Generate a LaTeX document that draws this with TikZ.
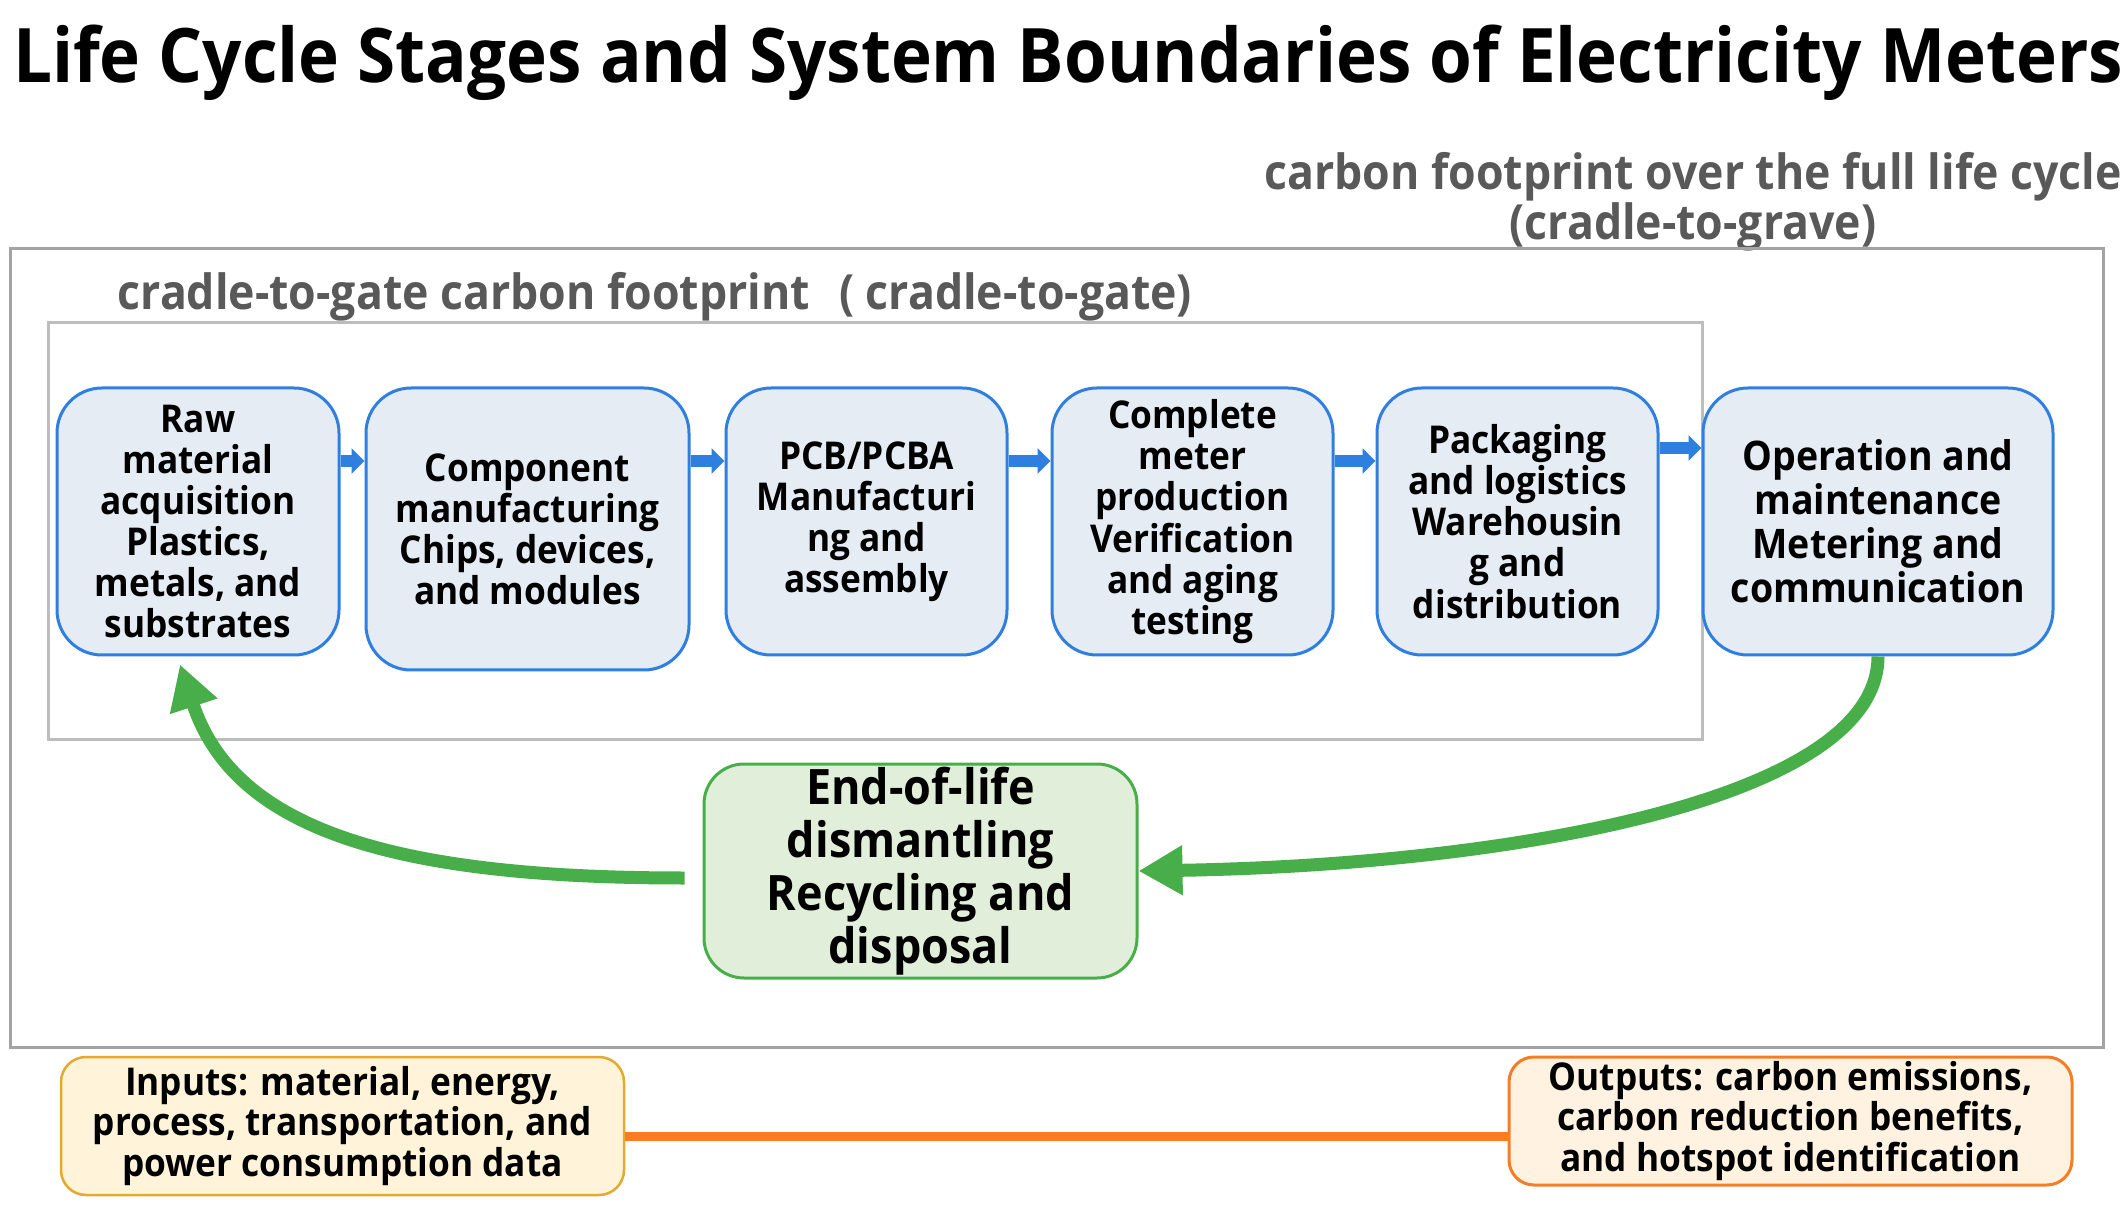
\documentclass[tikz,border=0pt]{standalone}
\usepackage{fontspec}
\setmainfont{Open Sans}[FakeStretch=0.92]
\usetikzlibrary{arrows.meta}

\definecolor{stageblue}{HTML}{2F7FE0}
\definecolor{stagefill}{HTML}{E5ECF4}
\definecolor{eolgreen}{HTML}{47AE4A}
\definecolor{eolfill}{HTML}{E1EEDA}
\definecolor{outergray}{HTML}{A3A3A3}
\definecolor{innergray}{HTML}{BDBDBD}
\definecolor{labelgray}{HTML}{595959}
\definecolor{inpborder}{HTML}{E3AA2E}
\definecolor{inpfill}{HTML}{FFF4D9}
\definecolor{outborder}{HTML}{F57E25}
\definecolor{outfill}{HTML}{FFF2E0}
\definecolor{linkorange}{HTML}{FF7B22}

\begin{document}
\begin{tikzpicture}[x=0.1mm,y=-0.1mm,
    stage/.style={draw=stageblue,line width=0.3mm,fill=stagefill,rounded corners=4.5mm,
        align=center,inner sep=0pt,minimum height=26.7mm,
        font=\bfseries\fontsize{10.9}{11.7}\selectfont},
    flow/.style={stageblue,line width=1.2mm,-{Triangle[length=1.3mm,width=2.5mm]}},
    backflow/.style={eolgreen,line width=1.3mm,-{Triangle[length=4.4mm,width=4.7mm]}},
    datanote/.style={rounded corners=2.5mm,align=center,inner sep=0pt,
        minimum width=56.3mm,font=\bfseries\fontsize{10.9}{11.6}\selectfont},
    boundlabel/.style={labelgray,align=center,inner sep=0pt,
        font=\bfseries\fontsize{13.8}{14.2}\selectfont}]

    \fill[white] (0,0) rectangle (2128,1206);
    \useasboundingbox (0,0) rectangle (2128,1206);

    % title and system boundaries
    \node[anchor=base,inner sep=0pt,font=\bfseries\fontsize{21.4}{24}\selectfont] (title) at (1068,83)
        {Life Cycle Stages and System Boundaries of Electricity Meters};
    \node[boundlabel] (gravelabel) at (1693,202)
        {carbon footprint over the full life cycle\\(cradle-to-grave)};
    \draw[outergray,line width=0.3mm] (10,249) rectangle (2103,1047);
    \node[boundlabel,anchor=base west] (gatelabel) at (117,310)
        {cradle-to-gate carbon footprint\hspace{0.6em}( cradle-to-gate)};
    \draw[innergray,line width=0.3mm] (48,323) rectangle (1702,739);

    % life cycle stages
    \node[stage,minimum width=28.2mm] (b1) at (198,521.5)
        {Raw\\material\\acquisition\\Plastics,\\metals, and\\substrates};
    \node[stage,minimum width=32.3mm,minimum height=28.2mm] (b2) at (527.5,529)
        {Component\\manufacturing\\Chips, devices,\\and modules};
    \node[stage,minimum width=28.1mm] (b3) at (866.5,521.5)
        {PCB/PCBA\\Manufacturi\\ng and\\assembly};
    \node[stage,minimum width=28.1mm] (b4) at (1192.5,521.5)
        {Complete\\meter\\production\\Verification\\and aging\\testing};
    \node[stage,minimum width=28.1mm] (b5) at (1517.5,521.5)
        {Packaging\\and logistics\\Warehousin\\g and\\distribution};
    \node[stage,minimum width=35mm,font=\bfseries\fontsize{11.6}{12.5}\selectfont] (b6) at (1878,521.5)
        {Operation and\\maintenance\\Metering and\\communication};

    \node[draw=eolgreen,line width=0.3mm,fill=eolfill,rounded corners=4mm,align=center,inner sep=0pt,
        minimum width=43.3mm,minimum height=21.4mm,font=\bfseries\fontsize{13.9}{15.1}\selectfont] (eol) at (920.5,871)
        {End-of-life\\dismantling\\Recycling and\\disposal};

    \coordinate (rowA) at (0,461);
    \coordinate (rowB) at (0,448);
    \foreach \a/\b in {b1/b2,b2/b3,b3/b4,b4/b5}
        \draw[flow] (\a.east |- rowA) -- (\b.west |- rowA);
    \draw[flow] (b5.east |- rowB) -- (b6.west |- rowB);

    % end of life loop
    \draw[backflow] (b6.south) .. controls +(0,145) and +(363,-6) .. (eol.east);
    \draw[backflow] ([shift={(-18,7)}]eol.west) .. controls +(-286,0) and +(55,167) .. ([shift={(-18,8)}]b1.south);

    % inventory data
    \node[datanote,draw=inpborder,line width=0.25mm,fill=inpfill,minimum height=13.8mm] (inp) at (342.5,1126)
        {Inputs: material, energy,\\process, transportation, and\\power consumption data};
    \node[datanote,draw=outborder,line width=0.3mm,fill=outfill,minimum height=12.8mm] (outp) at (1790.5,1121)
        {Outputs: carbon emissions,\\carbon reduction benefits,\\and hotspot identification};
    \coordinate (rowC) at (0,1136);
    \draw[linkorange,line width=0.9mm] (inp.east |- rowC) -- (outp.west |- rowC);
\end{tikzpicture}
\end{document}
